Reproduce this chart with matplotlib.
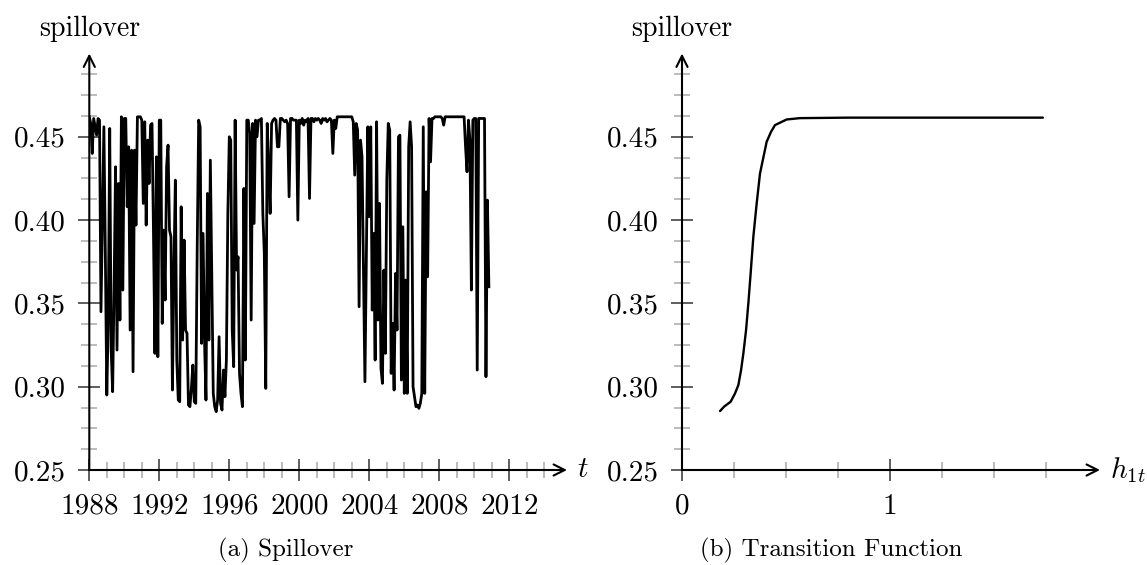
#!/usr/bin/env python3
"""Spillover series and transition function, two panels side by side"""

import numpy as np
import matplotlib
matplotlib.use('Agg')
import matplotlib.pyplot as plt
from matplotlib.ticker import FixedLocator

plt.rcParams['font.family'] = ['cmr10', 'DejaVu Serif']
plt.rcParams['mathtext.fontset'] = 'cm'
plt.rcParams['axes.formatter.use_mathtext'] = True

# monthly spillover, starting Jan 1988
spill_88_93 = [0.462, 0.458, 0.440, 0.461, 0.456, 0.451, 0.461, 0.460, 0.345, 0.400, 0.456, 0.380,
               0.295, 0.340, 0.455, 0.322, 0.297, 0.360, 0.432, 0.322, 0.422, 0.340, 0.462, 0.358,
               0.461, 0.461, 0.408, 0.444, 0.334, 0.442, 0.309, 0.442, 0.397, 0.462, 0.462, 0.462,
               0.460, 0.410, 0.459, 0.397, 0.448, 0.422, 0.457, 0.458, 0.393, 0.320, 0.438, 0.318,
               0.460, 0.460, 0.338, 0.394, 0.352, 0.432, 0.445, 0.394, 0.390, 0.298, 0.370, 0.424,
               0.316, 0.292, 0.291, 0.408, 0.328, 0.388, 0.334, 0.332, 0.289, 0.288, 0.299, 0.313, 0.291]
spill_94_99 = [0.290, 0.384, 0.460, 0.456, 0.326, 0.392, 0.328, 0.292, 0.416, 0.328, 0.436, 0.368,
               0.296, 0.288, 0.285, 0.292, 0.330, 0.290, 0.286, 0.310, 0.294, 0.316, 0.404, 0.450,
               0.448, 0.334, 0.312, 0.460, 0.370, 0.378, 0.308, 0.296, 0.288, 0.419, 0.316, 0.460,
               0.460, 0.452, 0.340, 0.458, 0.398, 0.460, 0.450, 0.460, 0.460, 0.461, 0.404, 0.380,
               0.299, 0.458, 0.432, 0.404, 0.458, 0.460, 0.461, 0.460, 0.444, 0.444, 0.461, 0.461,
               0.460, 0.459, 0.460, 0.458, 0.414, 0.461, 0.461, 0.460, 0.460, 0.460, 0.400]
spill_00_05 = [0.460, 0.458, 0.461, 0.457, 0.460, 0.459, 0.461, 0.413, 0.461,
               0.461, 0.459, 0.461, 0.460, 0.461, 0.460, 0.458, 0.461, 0.460, 0.461, 0.459, 0.460,
               0.461, 0.460, 0.440, 0.460, 0.455,
               0.462, 0.462, 0.462, 0.462, 0.462, 0.462, 0.462, 0.462, 0.462, 0.462, 0.462,
               0.459, 0.427, 0.458, 0.454, 0.348, 0.448, 0.438, 0.368, 0.303, 0.377, 0.456, 0.402,
               0.456, 0.346, 0.392, 0.316, 0.459, 0.340, 0.410, 0.311, 0.302, 0.370, 0.320, 0.424,
               0.458, 0.454, 0.308, 0.338, 0.298, 0.368, 0.334, 0.450, 0.451, 0.304]
spill_06_11 = [0.396, 0.296, 0.364, 0.296, 0.444, 0.459, 0.444, 0.300, 0.294, 0.288, 0.289,
               0.287, 0.290, 0.296, 0.456, 0.296, 0.417, 0.366, 0.461, 0.435, 0.461,
               0.461, 0.462, 0.462, 0.462, 0.462, 0.462, 0.461, 0.457,
               0.462, 0.462, 0.462, 0.462, 0.462, 0.462, 0.462, 0.462, 0.462, 0.462, 0.462, 0.462,
               0.462, 0.462, 0.444, 0.429, 0.460, 0.448, 0.358, 0.460, 0.461, 0.461, 0.310, 0.461,
               0.461, 0.461, 0.461, 0.461, 0.306, 0.412, 0.360]
spill = np.array(spill_88_93 + spill_94_99 + spill_00_05 + spill_06_11)
start_year = 1988

# transition function
h1t = [0.183, 0.202, 0.234, 0.255, 0.271, 0.284, 0.295, 0.308, 0.319, 0.330, 0.343,
       0.359, 0.375, 0.407, 0.428, 0.447, 0.503, 0.567, 0.8, 1.2, 1.735]
trans = [0.2854, 0.288, 0.291, 0.296, 0.301, 0.310, 0.320, 0.334, 0.350, 0.368, 0.390,
         0.410, 0.428, 0.447, 0.453, 0.457, 0.4604, 0.4612, 0.4615, 0.4615, 0.4615]

year_ticks = [1988, 1992, 1996, 2000, 2004, 2008, 2012]
y_ticks = [0.25, 0.30, 0.35, 0.40, 0.45]

W, H = 1147, 565
FS = 21


def style_axis(ax, xmaj, xmin_t, xlabels, xname):
    """pgfplots like middle axis lines with arrows"""
    for s in ax.spines.values():
        s.set_visible(False)
    ax.set_ylim(0.25, 0.5)
    ax.set_xticks(xmaj, xlabels)
    ax.xaxis.set_minor_locator(FixedLocator(xmin_t))
    ax.set_yticks(y_ticks, ['%.2f' % v for v in y_ticks])
    ax.yaxis.set_minor_locator(FixedLocator(list(np.arange(0.2625, 0.49, 0.0125))))
    ax.tick_params(which='major', direction='inout', length=15.5, width=1.1,
                   color='#333333', labelsize=FS, pad=9)
    ax.tick_params(which='minor', direction='inout', length=11, width=1.1, color='#aaaaaa')
    arr = dict(arrowstyle='->', lw=1.5, color='black', shrinkA=0, shrinkB=0, mutation_scale=20)
    ax.annotate('', xy=(1, 0), xytext=(0, 0), xycoords='axes fraction', arrowprops=arr)
    ax.annotate('', xy=(0, 1), xytext=(0, 0), xycoords='axes fraction', arrowprops=arr)
    # axis name just past the arrow tip
    ax.annotate(xname, xy=(1, 0), xycoords='axes fraction', xytext=(7, 0),
                textcoords='offset points', fontsize=FS, ha='left', va='center')
    ax.text(0.0, 1.0 + 18 / 416.5, 'spillover', transform=ax.transAxes, fontsize=20,
            ha='center', va='baseline')


def main():
    fig = plt.figure(figsize=(W / 100, H / 100), dpi=100)
    bottom = (H - 470) / H
    height = 416.5 / H

    ax1 = fig.add_axes([89.3 / W, bottom, 477.7 / W, height])
    t = start_year + np.arange(len(spill)) / 12.0
    ax1.plot(t, spill, color='black', lw=2.0)
    ax1.set_xlim(1988, 1988 + 477.7 / 17.5)
    minors = [y for y in range(1989, 2015) if y not in year_ticks]
    style_axis(ax1, year_ticks, minors, [str(y) for y in year_ticks], '$t$')

    ax2 = fig.add_axes([682 / W, bottom, 418 / W, height])
    ax2.plot(h1t, trans, color='black', lw=1.7, solid_capstyle='round')
    ax2.set_xlim(0, 418 / 208)
    style_axis(ax2, [0, 1], [0.25, 0.5, 0.75, 1.25, 1.5, 1.75], ['0', '1'], '$h_{1t}$')

    fig.text(286 / W, 1 - 550 / H, '(a) Spillover', fontsize=18, ha='center', va='center')
    fig.text(831 / W, 1 - 550 / H, '(b) Transition Function', fontsize=18,
             ha='center', va='center')

    fig.savefig('out.png', dpi=100)
    return 0


if __name__ == "__main__":
    main()
